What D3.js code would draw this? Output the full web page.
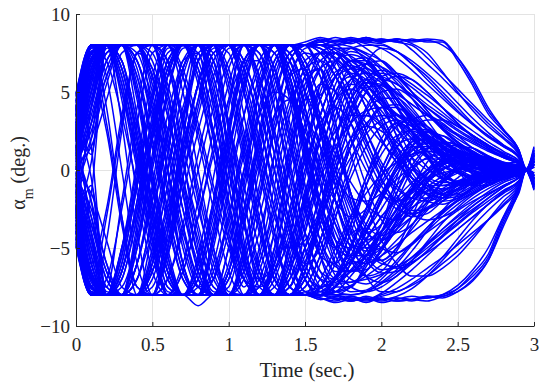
<!DOCTYPE html>
<html><head><meta charset="utf-8">
<script src="https://cdn.jsdelivr.net/npm/d3@7"></script>
<style>body{margin:0;background:#fff}svg{display:block}</style>
</head><body><svg id="c" width="550" height="391"></svg>
<script>
const times = [0,0.1,0.2,0.3,0.4,0.5,0.6,0.7,0.8,0.9,1.0,1.1,1.2,1.3,1.4,1.5,1.6,1.7,1.8,1.9,2.0,2.1,2.2,2.3,2.4,2.5,2.6,2.7,2.8,2.9,2.95,3.0];
const xTicks = [0,0.5,1,1.5,2,2.5,3];
const yTicks = [-10,-5,0,5,10];

const run01 = [4.5,7.9,8,8,5,-1,-6.5,-8, -8,-4,2,7,8,6.5,2,-2.5, -5.5,-6,-4,-1,1.5,3,2.5,1, -0.5,-1,-0.8,-0.3,0.2,0.3,0,0.8];
const run02 = [-3,-7.5,-8,-6,-1,4.5,8,8, 6,1,-4.5,-8,-8,-5.5,-1,3, 5.5,5,3,0.5,-1.5,-2,-1.5,-0.5, 0.3,0.6,0.5,0.2,-0.1,-0.3,0,-0.9];
const run03 = [1,6,8,7,2,-4,-8,-8, -7,-2,4,8,8,8,5,1, -3,-5,-5.5,-4,-2,0,1.5,2, 1.5,0.8,0.2,-0.2,-0.4,-0.3,0,1.1];
const run04 = [-1.5,-6.5,-8,-8,-4,2,7,8, 8,4,-2,-7,-8,-8,-6.5,-3, 1,4,5.5,5,3.5,1.5,-0.5,-1.5, -1.8,-1.2,-0.6,0,0.4,0.5,0,-1.2];
const run05 = [2.5,7.5,8,8,8,6,2,-2.5, -6.5,-8,-8,-8,-6,-2,2.5,6, 7.5,7.5,6,4,2,0.5,-0.5,-1, -1.2,-1,-0.6,-0.3,0,0.2,0,0.6];
const run06 = [-4.5,-7.9,-8,-8,-8,-5.5,-1,3.5, 7,8,8,7,4,0,-4,-7, -8,-7.5,-6,-4,-2.5,-1,0,0.8, 1,0.9,0.6,0.3,0,-0.2,0,-0.5];
const run07 = [0,5,8,3,-4,-8,-5,2, 7.5,8,2.5,-4.5,-8,-6,0.5,5.5, 6.5,3,-2,-4.5,-3.5,-0.5,2,2.5, 1.5,0,-1,-1,-0.5,0,0,0.4];
const run08 = [3,8,6,0,-6,-8,-4,3, 8,7,1,-5.5,-8,-5,1.5,6, 6.5,3,-1.5,-4,-3.5,-1,1.5,2.5, 2,0.8,-0.3,-0.8,-0.6,-0.2,0,1.3];
const run09 = [-2,-7,-7.5,-2,4,8,7,1, -5,-8,-6.5,-1,5,8,6,1, -3.5,-5,-3.5,-0.5,2,3,2.2,0.8, -0.5,-1,-0.9,-0.4,0,0.3,0,-1.1];
const run10 = [-3,8,8,8,8,8,7,3, -2,-6.5,-8,-8,-8,-7,-4,0, 3.5,6,7,7,6,4.5,3,1.8, 1,0.5,0.2,0,-0.2,-0.1,0,0.3];
const run11 = [3,-8,-8,-8,-7,-3,2,6.5, 8,8,8,8,5,1,-3.5,-7, -8,-8,-7.5,-6.5,-5.5,-4.5,-3.5,-2.5, -1.8,-1.2,-0.8,-0.4,-0.2,0,0,-0.4];
const run12 = [0.5,6.5,8,8,5.5,0,-5.5,-8, -8,-8,-5,0,5,8,8,8, 8.3,8.2,8.4,8.2,8.1,7.6,6.8,6, 5,4,3,2.2,1.5,0.8,0,0.9];
const run13 = [-0.5,-6,-8,-8,-6,-1,5,8, 8,7.5,3,-3,-7.5,-8,-8,-8, -8.3,-8.2,-8.4,-8.1,-8.3,-8.2,-8.4,-8.1, -8.1,-7.6,-6.8,-5.6,-3.2,-1.2,0,-1];
const run14 = [2,7,8,6,1.5,-3.5,-7.5,-8, -5.5,-0.5,4.5,8,8,8,8,8.2, 8.5,8.3,8.5,8.3,8.4,8.2,8.4,8.2, 8.2,7,5.4,3.6,2.5,1.3,0.1,1.5];
const run15 = [-2.5,-7.5,-8,-8,-8,-6,-2,3, 7,8,8,5,0.5,-4,-7.5,-8, -8.2,-8.5,-8.3,-8.4,-8.2,-8.4,-8.3,-8.2, -8,-7.4,-6.4,-5,-3,-1.5,0,-1];
const run16 = [4,8,8,8,8,6,1.5,-3.5, -7.5,-8,-8,-6,-2,3,7,8, 8.3,8.1,7.9,7.5,7,6.2,5.5,4.8, 4,3.2,2.5,1.8,1.2,0.6,0,0.7];
const run17 = [-4,-8,-8,-8,-8,-8,-8,-6.5, -3,1.5,5.5,8,8,8,6,2, -2.5,-6,-7.5,-7.8,-7.5,-6.8,-6,-5.2, -4.3,-3.5,-2.7,-2,-1.3,-0.7,0,-0.6];
const run18 = [1.5,7,8,8,8,8,8,8, 6.5,2.5,-2,-6,-8,-8,-8,-6.5, -3.5,0,3,5,6,6.2,5.8,5, 4,3,2.2,1.5,1,0.5,0,0.5];
const run19 = [-1,-6,-8,-8,-8,-8,-8,-8, -6,-2,2.5,6.5,8,8,8,6, 3,0,-2.5,-4.5,-5.8,-6.3,-6,-5.2, -4.2,-3.2,-2.3,-1.6,-1,-0.5,0,-0.4];
const run20 = [3.5,8,8,4.5,-1.5,-6.5,-8,-8, -8,-8,-7,-3.5,1,5,7.5,8, 8,8,8.2,8.5,8.3,8.4,8.2,8.3, 8,7.2,5.8,4,2.6,1.3,0,1.3];
const run21 = [-3.5,-8,-7,-2.5,3,7.5,8,8, 8,8,6,2,-3,-7,-8,-8, -8,-8.3,-8.2,-8.5,-8.2,-8.4,-8.3,-8.1, -8.2,-7.8,-7,-5.8,-3.6,-1.4,0,-1.2];
const run22 = [0,4,7.5,8,8,5,0,-5, -7.5,-7,-4,0,3.5,5,4.5,2.5, 0,-2,-3,-2.5,-1,0.5,1.5,1.5, 0.8,0,-0.5,-0.6,-0.3,0,0,0.2];
const run23 = [-0.2,-4.5,-8,-8,-5,0.5,6,8, 8,5.5,0,-5,-7,-6,-3,0.5, 3,4,3,1,-1,-2,-1.8,-0.8, 0.3,0.8,0.7,0.3,-0.1,-0.3,0,-0.8];
const run24 = [2,7.5,8,8,8,8,4,-1.5, -6.5,-8,-8,-8,-8,-8,-6,-3, -0.5,1.5,3,3.8,4,3.6,3,2.3, 1.6,1,0.6,0.3,0.1,0,0,0.3];
const run25 = [-4.8,-8,-8,-5,0.5,6,8,8, 8,8,8,8,8,5,0.5,-4, -6.5,-7,-6,-4,-2,-0.3,0.8,1.2, 1,0.6,0.2,-0.1,-0.3,-0.3,0,-0.3];
const run26 = [-2.5,7.9,8,8,8,8,8,8, 8,8,8,6,2,-2.5,-6.5,-8, -8,-7.5,-6,-4.5,-3,-2,-1.2,-0.6, -0.2,0,0.1,0.1,0,0,0,0.2];
const run27 = [2.5,-7.9,-8,-8,-8,-8,-8,-8, -8,-8,-6.5,-3,1.5,5.5,8,8, 8,7.5,6.5,5.5,4.5,3.6,2.8,2, 1.4,0.9,0.5,0.3,0.1,0,0,-0.2];
const run28 = [1.2,6.5,8,8,3.5,-2.5,-7,-8, -8,-4.5,1,6,8,8,4.5,-1, -5.5,-7.5,-7.5,-6,-4.5,-3,-1.8,-0.8, 0,0.5,0.7,0.6,0.4,0.2,0,0.6];
const run29 = [-1.2,-6.5,-8,-8,-3.5,2.5,7,8, 8,4.5,-1,-6,-8,-8,-4.5,1, 5.5,7.5,7.8,7,5.8,4.5,3.5,2.6, 1.9,1.3,0.8,0.4,0.1,-0.1,0,-0.6];
const run30 = [3,7.8,8,8,8,8,8,5, 0,-5,-8,-8,-8,-8,-8,-8, -8.1,-7.5,-6.5,-5.5,-4.6,-3.8,-3,-2.4, -1.8,-1.3,-0.9,-0.6,-0.4,-0.2,0,-0.8];
const run31 = [-3,-7.8,-8,-8,-8,-5,0,5, 8,8,8,8,8,8,8,8, 8.2,7.7,7,6.3,5.6,4.9,4.2,3.5, 2.8,2.2,1.7,1.2,0.8,0.4,0,0.5];
const run32 = [4.8,8,4,-3,-8,-6,1,7, 7.5,2,-4,-7.5,-5,1,6,6.5, 2.5,-2,-4,-3,-0.5,1.5,2,1.2, 0,-0.8,-0.9,-0.4,0.1,0.3,0,1];
const run33 = [-4.6,-8,-4.5,2.5,7.5,6.5,0,-6, -8,-4,2.5,7,7,2,-3.5,-6, -5,-1.5,2,3.5,3,1,-0.8,-1.5, -1.2,-0.5,0.2,0.5,0.4,0.1,0,-1.3];
const run34 = [0.8,5.5,8,8,8,8,8,8, 8,8,8,8,8,8,8,7.5, 6,4,2,0,-1.5,-2.5,-2.8,-2.5, -1.8,-1,-0.4,0,0.2,0.2,0,0.4];
const run35 = [-0.8,-5.5,-8,-8,-8,-8,-8,-8, -8,-8,-8,-8,-8,-8,-7.5,-5.5, -3,-0.5,1.5,3,3.5,3.2,2.5,1.6, 0.8,0.2,-0.2,-0.4,-0.3,-0.1,0,-0.4];
const run36 = [2.8,7.5,8,7,3,-2,-6,-8, -8,-8,-8,-7,-4,0,4,6.5, 7.5,7.5,6.8,5.5,4.2,3,2,1.2, 0.6,0.2,-0.1,-0.2,-0.2,-0.1,0,0.2];
const run37 = [-2.8,-7.5,-8,-7,-3,2,6,8, 8,8,8,7,4,0,-4,-6.5, -7.8,-8,-8,-7.8,-7.2,-6.4,-5.6,-4.7, -3.8,-3,-2.3,-1.6,-1,-0.5,0,-0.7];
const run38 = [3.8,8,8,8,6.5,2,-3,-7, -8,-8,-8,-8,-8,-6,-2.5,1.5, 5,7,7.8,8,8,7.6,7,6.2, 5.3,4.3,3.3,2.4,1.6,0.8,0,1];
const run39 = [-3.2,-7.8,-8,-8,-8,-8,-8,-8, -8,-7,-3,1.5,5.5,8,8,8, 6.5,4,1,-2,-4.5,-6,-6.8,-6.8, -6.3,-5.5,-4.4,-3.2,-2,-1,0,-0.9];
const run40 = [1.8,7,8,8,8,8,8,8, 8,7,3,-2,-6.5,-8,-8,-8, -8,-7,-5,-2.5,0,2,3.2,3.5, 3,2.2,1.4,0.8,0.3,0,0,0.5];
const run41 = [-1.5,8,8,8,8,8,8,8, 8,8,8,8,8,8,8,8, 8.4,8.2,8.3,7.8,7,6,5,4.2, 3.5,2.8,2.2,1.6,1.1,0.6,0,0.8];
const run42 = [-2.2,-7.2,-8,-6.5,-2,3.5,7.5,8, 8,8,8,8,8,8,8,8, 8.2,8.5,8.3,8.5,8.2,8.3,7.7,6.8, 5.9,4.9,4,3,2.1,1.1,0,1.2];
const run43 = [0.3,5,7.8,8,8,8,8,8, 8,8,8,8,8,8,7,4.5, 4.8,6,6.5,6.8,6.6,6,5.3,4.5, 3.7,2.9,2.2,1.6,1,0.5,0,0.6];
const run44 = [1.5,-8,-8,-8,-8,-8,-8,-8, -8,-8,-8,-8,-8,-8,-8,-8, -8.2,-8.4,-8.1,-8.3,-7.9,-7.2,-6.4,-5.5, -4.6,-3.8,-3,-2.2,-1.5,-0.8,0,-0.7];
const run45 = [2.2,7.2,8,6.5,2,-3.5,-7.5,-8, -8,-8,-8,-8,-8,-8,-8,-8, -8.3,-8.1,-8.4,-8.2,-8.5,-8.3,-8.1,-8.2, -8,-7.6,-6.6,-5.4,-3,-1.1,0,-1.1];
const run46 = [-0.3,-5,-7.8,-8,-8,-8,-8,-8, -8,-8,-8,-8,-8,-8,-8,-7.8, -7.5,-7.3,-7.2,-7,-6.7,-6.2,-5.6,-4.8, -4,-3.2,-2.5,-1.8,-1.1,-0.5,0,-0.5];
const run47 = [0.2,3,6,8,8,6,2,-2.5, -6,-8,-7,-3.5,0.5,3.5,4.5,3.5, 1.5,-0.5,-1.8,-2,-1.5,-0.6,0.2,0.7, 0.7,0.4,0,-0.3,-0.3,-0.1,0,0.3];
const run48 = [-0.6,-3.5,-6.5,-8,-8,-6.5,-3,1.5, 5.5,8,8,5,1,-3,-5,-4.5, -2.5,0,2,2.8,2.5,1.5,0.3,-0.6, -1,-0.9,-0.5,0,0.3,0.3,0,-0.4];
const run49 = [2.6,7.6,8,8,8,8,8,6, 2.5,-1.5,-5,-7,-7.5,-6.5,-4.5,-2, 0.5,2.5,3.5,3.5,2.8,1.8,0.8,0, -0.5,-0.7,-0.6,-0.4,-0.2,0,0,0.5];
const run50 = [-2.6,-7.6,-8,-8,-8,-8,-7,-4, 0,4,7,8,8,7.5,5,2, -1,-3.5,-4.8,-5,-4.2,-3,-1.8,-0.8, 0,0.5,0.6,0.5,0.3,0.1,0,-0.5];
const run51 = [4.4,8,8,8,5,-0.5,-5.5,-8, -8,-8,-8,-8,-6.5,-3,1,4.5, 6.5,7,6,4,2,0.5,-0.5,-1, -1,-0.7,-0.3,0,0.2,0.2,0,0.7];
const run52 = [-4.4,-8,-8,-8,-8,-8,-5.5,-0.5, 4.5,8,8,8,8,8,5.5,1.5, -2.5,-5,-6,-5.5,-4,-2.5,-1,0, 0.6,0.8,0.7,0.4,0.1,-0.1,0,-0.7];
const run53 = [0,2,5.5,8,8,8,8,8, 5.5,1,-3.5,-7,-8,-8,-8,-7.5, -5.5,-3,-0.5,1.5,2.8,3.2,2.8,2, 1.2,0.5,0,-0.3,-0.4,-0.2,0,0.9];
const run54 = [1,-2,-6,-8,-8,-8,-4,2, 7,8,8,8,8,6,2,-2, -5,-6.5,-6.5,-5.5,-4,-2.5,-1.2,-0.2, 0.4,0.7,0.7,0.5,0.2,0,0,-0.6];
const run55 = [-1.8,3,7,8,8,8,8,8, 8,8,8,8,6,2,-2.5,-6, -7.5,-7,-5.5,-3.5,-1.5,0.2,1.3,1.8, 1.7,1.3,0.8,0.4,0.1,-0.1,0,0.4];
const run56 = [1.6,-3,-7,-8,-8,-8,-8,-8, -8.7,-8,-8,-8,-8,-8,-8,-7, -4.5,-1.5,1.5,4,5.5,6,5.8,5, 4,3,2.1,1.4,0.8,0.4,0,0.2];
const run57 = [-4,8,8,8,8,8,8,8, 8,8,8,8,8,8,8,8, 7.5,6,4.5,3,1.8,0.8,0,-0.5, -0.8,-0.8,-0.6,-0.3,-0.1,0,0,0.5];
const run58 = [4,-8,-8,-8,-8,-8,-8,-8, -8,-8,-8,-8,-8,-8,-8,-8, -7,-5,-3,-1.5,-0.3,0.5,1,1.2, 1.1,0.8,0.5,0.2,0,-0.1,0,-0.4];
const run59 = [-4.9,-7.5,-3,3,7.5,8,8,8, 8,8,8,5,0.5,-4,-7.5,-8, -7.5,-6,-3.5,-1,1,2.2,2.5,2, 1.2,0.4,-0.2,-0.5,-0.4,-0.2,0,-1];
const run60 = [4.9,7.5,3,-3,-7.5,-8,-8,-8, -8,-8,-8,-5.5,-1,3.5,7,8, 7.8,6.5,4.5,2.5,0.5,-1,-1.8,-2, -1.6,-1,-0.4,0,0.2,0.2,0,1.1];
const run61 = [1.4,6.8,8,8,8,4,-1,-6, -8,-8,-8,-8,-8,-8,-8,-6.5, -3.5,0,3,5,5.8,5.5,4.8,4, 3.2,2.5,1.9,1.3,0.8,0.4,0,0.6];
const run62 = [-1.4,-6.8,-8,-8,-8,-4,1,6, 8,8,8,8,8,8,8,6.5, 3.5,0,-3,-5,-6,-6.2,-5.9,-5.3, -4.6,-3.8,-3,-2.2,-1.4,-0.7,0,-0.6];
const run63 = [-3.6,4,8,8,8,8,8,8, 8,8,8,8,8,7.5,5,1.5, -2,-4.5,-5.8,-6,-5.5,-4.8,-4,-3.3, -2.6,-2,-1.5,-1,-0.6,-0.3,0,-0.5];
const run64 = [3.6,-4,-8,-8,-8,-8,-8,-8, -8,-8,-8,-8,-8,-7.5,-5,-1.5, 2,4.5,5.8,6.2,6,5.5,4.8,4, 3.3,2.6,2,1.4,0.9,0.4,0,0.7];
const run65 = [3.8,7.5,8,8,7,3.5,-1.5,-6, -8,-8,-6.5,-2.5,2.5,6.5,8,8, 6,2.5,-1.5,-4.5,-5.8,-5,-3,-0.8, 0.8,1.5,1.4,0.9,0.4,0.1,0,0.6];
const run66 = [-2.4,-7,-8,-7.5,-4.5,0.5,5,7.8, 8,6,1.5,-3.5,-7,-8,-6.5,-2.5, 2,5,6,5.2,3.5,1.5,-0.2,-1.2, -1.5,-1.2,-0.7,-0.2,0.2,0.3,0,-1];
const run67 = [0.6,5.8,8,8,7.5,4.5,0,-4.5, -7.5,-8,-8,-6,-2,2.5,6,7.5, 7,5,2,-1,-3.2,-4,-3.5,-2.2, -0.8,0.3,0.8,0.8,0.5,0.2,0,0.3];
const run68 = [-3.9,-8,-8,-6.5,-2.5,2,6,8, 8,8,5.5,1,-3.5,-7,-8,-8, -6,-3,0,2.5,4,4.2,3.4,2.2, 1,0.1,-0.4,-0.5,-0.4,-0.2,0,-0.8];
const run69 = [4.1,8,7,3.5,-1,-5.5,-8,-8, -6.5,-3,1.5,5.5,8,8,6.5,3, -1,-4,-5.5,-5.5,-4,-2,0,1.3, 1.8,1.6,1,0.4,0,-0.2,0,0.9];
const run70 = [-1.7,-6.8,-8,-8,-8,-6.5,-3,1.5, 5.5,8,8,8,6,2.5,-1.5,-5, -7,-7.2,-6,-4,-1.8,0,1.2,1.7, 1.5,1,0.5,0.1,-0.2,-0.2,0,-0.5];
const run71 = [2.1,7.2,8,8,8,8,6.5,3, -1.5,-5.5,-8,-8,-8,-6.5,-3.5,0, 3.5,6,7,6.5,5,3.2,1.5,0.2, -0.6,-0.9,-0.8,-0.5,-0.2,0,0,0.4];
const run72 = [-4.2,-8,-8,-8,-6,-2,2.5,6.5, 8,8,8,6.5,3,-1.5,-5.5,-7.8, -8,-7,-5,-2.8,-0.8,0.8,1.8,2, 1.6,0.9,0.3,-0.1,-0.3,-0.2,0,-1];
const run73 = [1.1,6.2,8,5.5,0.5,-4.5,-7.8,-8, -6,-2,3,7,8,8,5,0.5, -3.5,-6,-6.5,-5.5,-3.5,-1.5,0.3,1.4, 1.8,1.6,1.1,0.6,0.2,0,0,0.5];
const run74 = [-0.9,-6,-8,-5.5,-0.5,4.5,7.8,8, 6,2,-3,-7,-8,-8,-5,-0.5, 3.5,6,7,6.8,5.8,4.5,3.2,2.1, 1.2,0.6,0.2,-0.1,-0.2,-0.2,0,-0.4];
const run75 = [-1,2,8,8,8,8,8,8, 8,8,8,8,7.5,5,1.5,-2.5, -5.5,-7,-7.2,-6.5,-5.2,-3.8,-2.5,-1.4, -0.6,0,0.3,0.4,0.3,0.1,0,0.2];
const run76 = [1,-2,-8,-8,-8,-8,-8,-8, -8,-8,-8,-8,-7.5,-5,-1.5,2.5, 5.5,7,7.4,7,6,4.8,3.6,2.6, 1.8,1.2,0.8,0.5,0.3,0.1,0,0.3];
const run77 = [2.9,7.8,8,6,1,-4.5,-8,-8, -8,-8,-8,-8,-5.5,-1,3.5,6.5, 7,6,4,1.8,0,-1.2,-1.8,-1.8, -1.4,-0.9,-0.5,-0.2,0,0.1,0,0.8];
const run78 = [-2.9,-7.8,-8,-6,-1,4.5,8,8, 8,8,8,8,5.5,1,-3.5,-6.5, -7.5,-7,-5.5,-3.5,-1.6,0,1,1.4, 1.3,1,0.6,0.3,0,-0.1,0,-0.6];
const run79 = [0.4,4.5,7.5,8,8,8,7,3.5, -1,-5,-7.8,-8,-8,-8,-8,-7, -4.5,-1.5,1.5,3.8,5,5.2,4.6,3.6, 2.6,1.8,1.2,0.7,0.4,0.2,0,0.3];
const run80 = [-0.4,-4.5,-7.5,-8,-8,-8,-7,-3.5, 1,5,7.8,8,8,8,8,7, 4.5,1.5,-1.5,-3.8,-5,-5.3,-4.8,-3.9, -3,-2.2,-1.5,-1,-0.6,-0.3,0,-0.5];
const run81 = [4.7,8,8,8,8,7,3.5,-1, -5.5,-8,-8,-8,-8,-8,-8,-6, -2.5,1,4,5.8,6.4,6,5,3.8, 2.6,1.7,1,0.5,0.2,0,0,0.7];
const run82 = [-4.7,-8,-8,-8,-8,-7,-3.5,1, 5.5,8,8,8,8,8,8,6, 2.5,-1,-4,-5.8,-6.6,-6.5,-5.8,-4.8, -3.8,-2.9,-2.1,-1.4,-0.8,-0.4,0,-0.6];
const run83 = [1.9,7,8,8,6,1.5,-3.5,-7, -8,-8,-6,-1.5,3.5,7,8,8, 8,8.3,8.1,8.4,8.2,8.4,8.1,7.5, 6.3,5,3.8,2.8,2,1,0,1];
const run84 = [-1.9,-7,-8,-8,-6,-1.5,3.5,7, 8,8,6,1.5,-3.5,-7,-8,-8, -8,-8.2,-8.4,-8.2,-8.3,-8.1,-7.6,-6.8, -5.8,-4.7,-3.6,-2.6,-1.7,-0.9,0,-0.9];
const run85 = [0.1,3.5,7,8,8,8,8,8, 8,8,6.5,2.5,-2,-6,-8,-8, -8,-7.8,-6.8,-5.5,-4,-2.6,-1.4,-0.5, 0.1,0.4,0.5,0.4,0.2,0.1,0,0.2];
const run86 = [-0.1,-3.5,-7,-8,-8,-8,-8,-8, -8,-8,-6.5,-2.5,2,6,8,8, 8,8,7.2,6,4.6,3.2,2,1, 0.3,-0.2,-0.4,-0.4,-0.2,-0.1,0,-0.2];
const run87 = [3.4,8,8,5.5,0.5,-4.5,-8,-8, -8,-8,-8,-5,0,4.5,7.5,8, 8,7,5,2.5,0.2,-1.6,-2.8,-3.2, -3,-2.5,-1.8,-1.2,-0.7,-0.3,0,-0.3];
const run88 = [-3.4,-8,-8,-5.5,-0.5,4.5,8,8, 8,8,8,5,0,-4.5,-7.5,-8, -8,-6.8,-4.8,-2.5,-0.4,1.4,2.6,3.2, 3.2,2.8,2.2,1.6,1,0.5,0,0.5];
const run89 = [2.3,7.4,8,8,8,8,8,8, 8,8,8,8,8,8,8,8, 8,8.3,8.4,8.2,8.4,8.2,8,7.2, 6.2,5.2,4.2,3.2,2.3,1.2,0,1.1];
const run90 = [-2.3,-7.4,-8,-8,-8,-8,-8,-8, -8,-8,-8,-8,-8,-8,-8,-8, -8,-8.3,-8.1,-8.3,-8,-7.6,-7,-6.3, -5.6,-4.8,-4,-3.2,-2.3,-1.2,0,-0.8];
const run91 = [1.3,6,8,8,4.5,-1,-6,-8, -8,-5,0,5,8,8,6,2, -2,-4.5,-5,-3.8,-1.8,0.3,1.8,2.4, 2.2,1.5,0.7,0,-0.4,-0.4,0,0.4];
const run92 = [-1.3,-6,-8,-8,-4.5,1,6,8, 8,5,0,-5,-8,-8,-6,-2, 2,4.5,5.2,4.5,2.8,0.8,-1,-2, -2.2,-1.8,-1.1,-0.4,0.1,0.3,0,-0.4];
const run93 = [4.3,8,8,6.5,2.5,-2.5,-6.5,-8, -8,-8,-5,-0.5,4,7,8,7, 4.5,1.5,-1.5,-3.5,-4.2,-3.6,-2.2,-0.8, 0.3,0.9,1,0.8,0.4,0.1,0,1.2];
const run94 = [-4.3,-8,-8,-6.5,-2.5,2.5,6.5,8, 8,8,5,0.5,-4,-7,-8,-7.5, -5.5,-2.5,0.5,2.8,4,4,3.2,2, 0.8,-0.1,-0.6,-0.7,-0.5,-0.2,0,-1.2];
const run95 = [0.7,5.5,8,8,8,5.5,1,-3.5, -7,-8,-8,-8,-6,-2.5,1.5,5, 7,7.5,6.8,5.2,3.2,1.2,-0.5,-1.6, -2,-1.8,-1.2,-0.6,-0.1,0.2,0,0.5];
const run96 = [-0.7,-5.5,-8,-8,-8,-5.5,-1,3.5, 7,8,8,8,6,2.5,-1.5,-5, -7,-7.8,-7.5,-6.2,-4.5,-2.8,-1.3,-0.2, 0.5,0.8,0.8,0.6,0.3,0.1,0,-0.3];
const run97 = [3.7,8,8,8,8,8,5,0.5, -4,-7.5,-8,-8,-8,-8,-7,-4, -0.5,3,5.5,6.8,7,6.2,5,3.8, 2.7,1.8,1.1,0.6,0.3,0.1,0,0.6];
const run98 = [-3.7,-8,-8,-8,-8,-8,-5,-0.5, 4,7.5,8,8,8,8,7,4, 0.5,-3,-5.5,-6.8,-7.2,-6.8,-5.8,-4.6, -3.4,-2.4,-1.6,-1,-0.5,-0.2,0,-0.4];
const run99 = [2.5,7.5,8,5,0,-5,-8,-8, -6.5,-2.5,2.5,6.5,8,8,8,6.5, 3.5,0.5,-2.2,-4,-4.5,-4,-3,-1.8, -0.8,0,0.4,0.5,0.4,0.2,0,0.8];
const run100 = [-2.5,-7.5,-8,-5,0,5,8,8, 6.5,2.5,-2.5,-6.5,-8,-8,-8,-7, -4.5,-1.5,1.5,3.5,4.6,4.6,3.8,2.6, 1.4,0.5,-0.1,-0.4,-0.4,-0.2,0,-0.8];
const run101 = [4,8,8,8,8,8,8,8, 7,3.5,-1,-5.5,-8,-8,-8,-6.5, -3,1,4.5,6.8,7.8,7.6,6.8,5.8, 4.8,3.8,2.9,2.1,1.5,0.8,0,0.9];
const run102 = [-4,-8,-8,-8,-8,-8,-8,-8, -7,-3.5,1,5.5,8,8,8,6.5, 3,-1,-4.5,-6.8,-7.8,-7.8,-7.3,-6.6, -5.6,-4.4,-3.2,-2.2,-1.4,-0.7,0,-0.7];
const run103 = [4.5,1,8,8,8,8,8,8, 8,8,8,8,8,8,8,8, 7.8,7,6,5,4.2,3.5,2.8,2.2, 1.7,1.3,0.9,0.6,0.4,0.2,0,0.3];
const run104 = [-4.5,-1,-8,-8,-8,-8,-8,-8, -8,-8,-8,-8,-8,-8,-8,-8, -7.6,-6.8,-5.8,-4.8,-3.9,-3.1,-2.4,-1.8, -1.3,-0.9,-0.6,-0.4,-0.2,-0.1,0,-0.2];
const run105 = [0.5,2.5,6,8,7,3,-2.5,-6.5, -8,-7,-3,2,6,8,7.5,4, -0.5,-4.5,-6.5,-6,-4,-1.5,0.8,2, 2.2,1.6,0.8,0.1,-0.3,-0.3,0,0.5];
const run106 = [-0.5,-2.5,-6,-8,-7,-3,2.5,6.5, 8,7,3,-2,-6,-8,-7.5,-4, 0.5,4.5,6.5,6.2,4.5,2.2,0.2,-1.2, -1.8,-1.7,-1.2,-0.6,-0.1,0.2,0,-0.5];
const run107 = [1.5,4,7.5,8,8,6,2.5,-1.5, -5.5,-7.8,-8,-6.5,-3,1,4.5,7, 7.5,6.5,4.5,2,-0.5,-2.2,-3,-2.8, -2,-1.2,-0.5,0,0.2,0.2,0,0.3];
const run108 = [-1.5,-4,-7.5,-8,-8,-6,-2.5,1.5, 5.5,7.8,8,6.5,3,-1,-4.5,-7, -7.8,-7,-5,-2.5,0,1.8,2.6,2.6, 2,1.2,0.5,0,-0.3,-0.3,0,-0.3];
const run109 = [3,6.5,8,8,8,8,8,6.5, 3,-1,-4.5,-7,-8,-8,-6.5,-3.5, 0,3.5,5.8,6.5,5.8,4.2,2.4,0.8, -0.3,-0.8,-0.8,-0.5,-0.2,0,0,0.8];
const run110 = [-3,-6.5,-8,-8,-8,-8,-8,-6.5, -3,1,4.5,7,8,8,6.5,3.5, 0,-3.5,-5.8,-6.8,-6.5,-5.2,-3.6,-2, -0.8,0,0.4,0.5,0.3,0.1,0,-0.8];
const run111 = [2,5,8,8,8,8,5.5,1.5, -2.5,-6,-8,-8,-8,-8,-8,-6, -3,0.5,3.5,5.5,6.2,5.8,4.6,3.2, 1.9,1,0.4,0,-0.2,-0.2,0,0.4];
const run112 = [-2,-5,-8,-8,-8,-8,-5.5,-1.5, 2.5,6,8,8,8,8,8,6, 3,-0.5,-3.5,-5.5,-6.4,-6.2,-5.2,-3.9, -2.6,-1.6,-0.8,-0.3,0,0.1,0,-0.4];
const run113 = [4,7,8,5,1,-3,-6.5,-8, -7.5,-4.5,-0.5,3.5,6.5,8,7.5,5, 1.5,-2,-4.5,-5.5,-5,-3.5,-1.8,-0.3, 0.7,1.1,1,0.7,0.3,0.1,0,1];
const run114 = [-4,-7,-8,-5,-1,3,6.5,8, 7.5,4.5,0.5,-3.5,-6.5,-8,-7.5,-5, -1.5,2,4.5,5.6,5.3,4,2.4,0.9, -0.2,-0.8,-0.9,-0.7,-0.4,-0.1,0,-1];
const run115 = [0.9,4.5,8,8,8,8,8,8, 8,6.5,3,-1,-5,-7.5,-8,-8, -7.5,-5.5,-3,-0.5,1.5,2.8,3.2,2.8, 2,1.2,0.5,0,-0.2,-0.2,0,0.3];
const run116 = [-0.9,-4.5,-8,-8,-8,-8,-8,-8, -8,-6.5,-3,1,5,7.5,8,8, 7.5,6,3.8,1.5,-0.6,-2,-2.6,-2.5, -2,-1.4,-0.8,-0.3,0,0.1,0,-0.3];
const run117 = [2.7,7,8,8,7,4,0,-4, -7,-8,-8,-8,-8,-6.5,-3,1, 4.5,6.8,7.6,7.2,6,4.6,3.3,2.2, 1.4,0.8,0.4,0.1,0,-0.1,0,0.6];
const run118 = [-2.7,-7,-8,-8,-7,-4,0,4, 7,8,8,8,8,6.5,3,-1, -4.5,-6.8,-7.8,-7.7,-7,-6,-4.8,-3.7, -2.7,-1.9,-1.3,-0.8,-0.4,-0.2,0,-0.6];
const run119 = [-2.5,0.5,8,8,8,8,8,8, 8,8,8,8,8,8,7,5, 3,1,-0.8,-2.2,-3,-3.2,-2.8,-2.1, -1.4,-0.8,-0.3,0,0.1,0.1,0,0.2];
const run120 = [2.5,-0.5,-8,-8,-8,-8,-8,-8, -8,-8,-8,-8,-8,-8,-7,-5, -3,-1,0.8,2.3,3.2,3.5,3.2,2.6, 1.9,1.2,0.7,0.3,0.1,0,0,-0.2];
const run121 = [3.2,6,2.5,-3.5,-7.5,-8,-5,0.5, 5.5,8,7.5,3.5,-2,-6.5,-8,-6.5, -2.5,2,5,5.8,4.8,2.8,0.8,-0.8, -1.6,-1.6,-1.1,-0.5,0,0.2,0,1];
const run122 = [-3.2,-6,-2.5,3.5,7.5,8,5,-0.5, -5.5,-8,-7.5,-3.5,2,6.5,8,6.5, 2.5,-2,-5,-6,-5.2,-3.3,-1.2,0.5, 1.4,1.6,1.2,0.6,0.1,-0.2,0,-1];
const run123 = [0.2,4,8,8,8,8,8,8, 8,8,8,8,8,8,8,8, 8,8,8.2,8.4,8.2,8.4,8.3,8.4, 8.3,7.2,5.6,3.8,2.6,1.3,0,1.4];
const run124 = [-0.2,-4,-8,-8,-8,-8,-8,-8, -8,-8,-8,-8,-8,-8,-8,-8, -8,-8,-8.3,-8.2,-8.4,-8.2,-8.3,-8.4, -8.1,-7.8,-7.1,-5.8,-3.4,-1.3,0,-1.1];
const run125 = [2.4,7.6,8,8,8,6.5,3.5,-0.5, -4.5,-7.5,-8,-8,-7,-4,0,4, 6.5,7.8,7.8,7.4,6.6,5.6,4.6,3.6, 2.7,2,1.4,0.9,0.5,0.3,0,0.4];
const run126 = [-2.4,-7.6,-8,-8,-8,-6.5,-3.5,0.5, 4.5,7.5,8,8,7,4,0,-4, -6.5,-7.8,-8,-7.8,-7.3,-6.6,-5.8,-5, -4.2,-3.4,-2.6,-1.8,-1.1,-0.5,0,-0.5];
const run127 = [-2,8,8,8,8,8,8,8, 8,8,8,8,8,8,8,8, 8,7.8,7.3,6.6,5.8,5,4.2,3.5, 2.9,2.3,1.8,1.3,0.9,0.5,0,0.7];
const run128 = [2,-8,-8,-8,-8,-8,-8,-8, -8,-8,-8,-8,-8,-8,-8,-8, -8,-7.8,-7.4,-6.8,-6.1,-5.4,-4.7,-4, -3.3,-2.6,-2,-1.5,-1,-0.5,0,-0.6];
const run129 = [1,5,8,6.5,2,-3,-7,-8, -8,-6,-1.5,3.5,7,8,8,6, 2.5,-1,-3.8,-5.2,-5,-3.8,-2.2,-0.6, 0.5,1,1,0.7,0.3,0.1,0,0.5];
const run130 = [-1,-5,-8,-6.5,-2,3,7,8, 8,6,1.5,-3.5,-7,-8,-8,-6, -2.5,1,3.8,5.3,5.4,4.5,3,1.6, 0.5,-0.2,-0.5,-0.5,-0.3,-0.1,0,-0.5];
const run131 = [3.5,7.5,8,8,8,7.5,4.5,0.5, -3.5,-7,-8,-8,-8,-8,-7.5,-5, -1.5,2,4.5,5.6,5.5,4.5,3.2,1.9, 0.9,0.3,-0.1,-0.2,-0.2,-0.1,0,0.4];
const run132 = [-3.5,-7.5,-8,-8,-8,-7.5,-4.5,-0.5, 3.5,7,8,8,8,8,7.5,5, 1.5,-2,-4.5,-5.7,-5.8,-5,-3.8,-2.6, -1.6,-0.9,-0.4,0,0.2,0.2,0,-0.4];
const run133 = [0.3,1.5,4.5,7.5,8,8,8,6, 2,-2.5,-6.5,-8,-8,-8,-6,-2, 2,5,6.2,5.8,4.2,2.2,0.3,-1, -1.6,-1.5,-1,-0.5,-0.1,0.1,0,0.6];
const run134 = [-0.3,-1.5,-4.5,-7.5,-8,-8,-8,-6, -2,2.5,6.5,8,8,8,6,2, -2,-5,-6.5,-6.4,-5,-3.2,-1.4,0, 0.9,1.2,1,0.6,0.2,0,0,-0.6];
const run135 = [4.9,8,8,8,6,2,-2.5,-6.5, -8,-8,-8,-8,-8,-8,-8,-8, -7.8,-7,-5.8,-4.4,-3,-1.8,-0.8,0, 0.5,0.7,0.7,0.5,0.3,0.1,0,0.6];
const run136 = [-4.9,-8,-8,-8,-6,-2,2.5,6.5, 8,8,8,8,8,8,8,8, 7.8,7.2,6.2,5,3.8,2.6,1.6,0.8, 0.2,-0.2,-0.4,-0.4,-0.3,-0.1,0,-0.6];
const run137 = [2.2,6.5,8,8,5,0,-5,-8, -8,-8,-8,-8,-8,-8,-5.5,-1.5, 2.5,5.5,7,7.2,6.4,5.2,4,2.8, 1.8,1.1,0.6,0.3,0.1,0,0,0.4];
const run138 = [-2.2,-6.5,-8,-8,-5,0,5,8, 8,8,8,8,8,8,5.5,1.5, -2.5,-5.5,-7,-7.3,-6.8,-5.8,-4.7,-3.7, -2.8,-2,-1.4,-0.9,-0.5,-0.2,0,-0.5];
const run139 = [0.1,3,6.5,8,8,8,8,8, 8,8,8,8,8,6,2.5,-1.5, -4.5,-6.2,-6.5,-5.8,-4.6,-3.3,-2.1,-1.1, -0.4,0.1,0.3,0.3,0.2,0.1,0,0.2];
const run140 = [-0.1,-3,-6.5,-8,-8,-8,-8,-8, -8,-8,-8,-8,-8,-6,-2.5,1.5, 4.5,6.3,6.7,6.2,5.2,4,2.9,1.9, 1.1,0.5,0.1,-0.1,-0.2,-0.1,0,-0.2];
const run141 = [3.9,8,8,7,3,-2,-6.5,-8, -8,-8,-8,-8,-7.5,-4,0.5,5, 7.5,8,8.3,8.1,7.8,7.2,6.4,5.5, 4.6,3.7,2.9,2.2,1.6,0.9,0,1];
const run142 = [-3.9,-8,-8,-7,-3,2,6.5,8, 8,8,8,8,7.5,4,-0.5,-5, -7.5,-8,-8.2,-8.3,-8.1,-7.8,-7.4,-6.8, -6,-5.2,-4.2,-3.2,-2.2,-1.1,0,-0.9];
const run143 = [-4.8,-1.5,8,8,8,8,8,8, 8,8,8,5.5,1.5,-2.5,-6,-7.8, -8,-7.4,-6.4,-5.2,-4,-2.9,-2,-1.3, -0.7,-0.2,0.1,0.2,0.2,0.1,0,0.4];
const run144 = [4.8,1.5,-8,-8,-8,-8,-8,-8, -8,-8,-8,-5.5,-1.5,2.5,6,7.8, 8,7.5,6.6,5.5,4.4,3.3,2.4,1.6, 1,0.5,0.2,0,-0.1,-0.1,0,-0.3];

const runs = [run01,run02,run03,run04,run05,run06,run07,run08,run09,run10,run11,run12,run13,run14,run15,run16,
  run17,run18,run19,run20,run21,run22,run23,run24,run25,run26,run27,run28,run29,run30,run31,run32,
  run33,run34,run35,run36,run37,run38,run39,run40,run41,run42,run43,run44,run45,run46,run47,run48,
  run49,run50,run51,run52,run53,run54,run55,run56,run57,run58,run59,run60,run61,run62,run63,run64,
  run65,run66,run67,run68,run69,run70,run71,run72,run73,run74,run75,run76,run77,run78,run79,run80,
  run81,run82,run83,run84,run85,run86,run87,run88,run89,run90,run91,run92,run93,run94,run95,run96,
  run97,run98,run99,run100,run101,run102,run103,run104,run105,run106,run107,run108,run109,run110,run111,run112,
  run113,run114,run115,run116,run117,run118,run119,run120,run121,run122,run123,run124,run125,run126,run127,run128,
  run129,run130,run131,run132,run133,run134,run135,run136,run137,run138,run139,run140,run141,run142,run143,run144];

const FONT = '"Liberation Serif","Times New Roman",Times,serif';
const AX = '#262626';
const svg = d3.select('#c');
const x = d3.scaleLinear().domain([0,3]).range([76,534]);
const y = d3.scaleLinear().domain([-10,10]).range([326,14]);

// grid
const grid = svg.append('g').attr('stroke','#e3e3e3').attr('stroke-width',1);
grid.selectAll('line.v').data(xTicks.filter(d=>d>0)).join('line').attr('class','v')
  .attr('x1',d=>Math.round(x(d))+0.5).attr('x2',d=>Math.round(x(d))+0.5).attr('y1',y(10)).attr('y2',y(-10));
grid.selectAll('line.h').data(yTicks.filter(d=>d>-10)).join('line').attr('class','h')
  .attr('y1',d=>Math.round(y(d))+0.5).attr('y2',d=>Math.round(y(d))+0.5).attr('x1',x(0)).attr('x2',x(3));

// runs
const line = d3.line()
  .defined((d,i)=>i<times.length)
  .x((d,i)=>x(times[i])).y(d=>y(d))
  .curve(d3.curveMonotoneX);
svg.append('g').attr('fill','none').attr('stroke','#0000ff').attr('stroke-width',1.5)
  .attr('stroke-linejoin','round')
  .selectAll('path').data(runs).join('path').attr('d',line);

// axes
const gx = svg.append('g').attr('transform',`translate(0,${y(-10)})`)
  .call(d3.axisBottom(x).tickValues(xTicks).tickFormat(d3.format('~g')).tickSizeInner(-4).tickSizeOuter(0).tickPadding(12));
const gy = svg.append('g').attr('transform',`translate(${x(0)},0)`)
  .call(d3.axisLeft(y).tickValues(yTicks).tickSizeInner(-4).tickSizeOuter(0).tickPadding(6));
[gx,gy].forEach(g=>{
  g.attr('font-family',FONT).attr('font-size',19);
  g.select('.domain').attr('stroke',AX);
  g.selectAll('.tick line').attr('stroke',AX);
  g.selectAll('.tick text').attr('fill',AX).attr('font-family',FONT).attr('font-size',19);
});
gy.selectAll('.tick text').attr('dy','0.36em');

// labels
svg.append('text').attr('x',x(1.5)+2).attr('y',377).attr('text-anchor','middle')
  .attr('fill',AX).attr('font-family',FONT).attr('font-size',21).text('Time (sec.)');
const yl = svg.append('text').attr('transform','translate(25,173) rotate(-90)').attr('text-anchor','middle')
  .attr('fill',AX).attr('font-family',FONT).attr('font-size',20);
yl.append('tspan').text('α');
yl.append('tspan').attr('dy',8).attr('font-size',14).text('m');
yl.append('tspan').attr('dy',-8).text(' (deg.)');
</script></body></html>
